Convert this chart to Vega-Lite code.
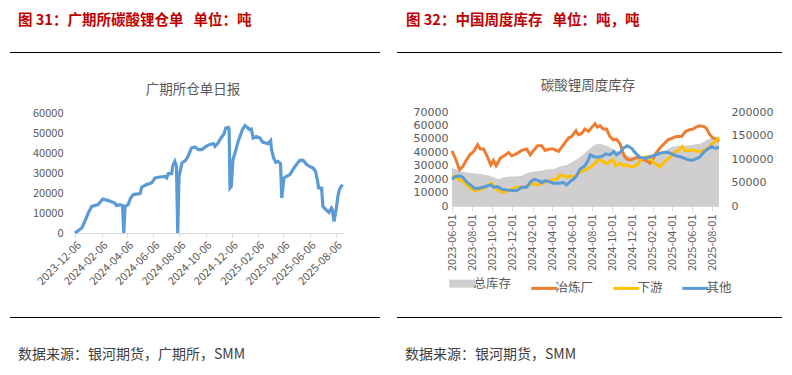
{
  "$schema": "https://vega.github.io/schema/vega-lite/v6.json",
  "background": "white",
  "padding": {"left": 10, "top": 13, "right": 5, "bottom": 5},
  "config": {
    "font": "Noto Sans CJK SC",
    "view": {"stroke": null},
    "axis": {"labelFont": "Noto Sans CJK SC", "labelColor": "#595959", "grid": false, "title": null},
    "title": {"font": "Noto Sans CJK SC"}
  },
  "datasets": {
    "warrant": [
      {"date": "2023-12-06", "value": 0},
      {"date": "2023-12-22", "value": 2500},
      {"date": "2023-12-29", "value": 5800},
      {"date": "2024-01-06", "value": 10000},
      {"date": "2024-01-14", "value": 13300},
      {"date": "2024-01-29", "value": 14200},
      {"date": "2024-02-09", "value": 17000},
      {"date": "2024-02-22", "value": 16200},
      {"date": "2024-03-08", "value": 15000},
      {"date": "2024-03-12", "value": 13700},
      {"date": "2024-03-20", "value": 14200},
      {"date": "2024-03-26", "value": 13700},
      {"date": "2024-03-29", "value": 0},
      {"date": "2024-04-01", "value": 13300},
      {"date": "2024-04-08", "value": 14200},
      {"date": "2024-04-14", "value": 17500},
      {"date": "2024-04-20", "value": 19200},
      {"date": "2024-05-06", "value": 19700},
      {"date": "2024-05-10", "value": 23000},
      {"date": "2024-05-21", "value": 24200},
      {"date": "2024-06-02", "value": 25000},
      {"date": "2024-06-10", "value": 27500},
      {"date": "2024-06-21", "value": 28000},
      {"date": "2024-07-03", "value": 28300},
      {"date": "2024-07-07", "value": 27500},
      {"date": "2024-07-11", "value": 29700},
      {"date": "2024-07-19", "value": 29700},
      {"date": "2024-07-21", "value": 33300},
      {"date": "2024-07-26", "value": 35800},
      {"date": "2024-07-30", "value": 33300},
      {"date": "2024-08-02", "value": 0},
      {"date": "2024-08-05", "value": 28300},
      {"date": "2024-08-12", "value": 35000},
      {"date": "2024-08-20", "value": 36300},
      {"date": "2024-08-26", "value": 38300},
      {"date": "2024-09-03", "value": 42500},
      {"date": "2024-09-11", "value": 43000},
      {"date": "2024-09-19", "value": 41700},
      {"date": "2024-09-27", "value": 41700},
      {"date": "2024-10-07", "value": 43300},
      {"date": "2024-10-16", "value": 44300},
      {"date": "2024-10-24", "value": 44700},
      {"date": "2024-10-28", "value": 43300},
      {"date": "2024-11-04", "value": 45000},
      {"date": "2024-11-11", "value": 47500},
      {"date": "2024-11-18", "value": 49500},
      {"date": "2024-11-22", "value": 52500},
      {"date": "2024-11-28", "value": 52800},
      {"date": "2024-11-30", "value": 51700},
      {"date": "2024-12-02", "value": 22500},
      {"date": "2024-12-05", "value": 23300},
      {"date": "2024-12-09", "value": 36700},
      {"date": "2024-12-16", "value": 41700},
      {"date": "2024-12-21", "value": 45800},
      {"date": "2024-12-27", "value": 49200},
      {"date": "2024-12-31", "value": 51700},
      {"date": "2025-01-06", "value": 53700},
      {"date": "2025-01-13", "value": 52500},
      {"date": "2025-01-17", "value": 51700},
      {"date": "2025-01-21", "value": 52000},
      {"date": "2025-01-25", "value": 47500},
      {"date": "2025-02-02", "value": 48300},
      {"date": "2025-02-10", "value": 47500},
      {"date": "2025-02-17", "value": 45300},
      {"date": "2025-03-01", "value": 44700},
      {"date": "2025-03-07", "value": 46200},
      {"date": "2025-03-09", "value": 41700},
      {"date": "2025-03-14", "value": 37500},
      {"date": "2025-03-19", "value": 35300},
      {"date": "2025-03-24", "value": 35800},
      {"date": "2025-03-30", "value": 34700},
      {"date": "2025-04-02", "value": 17500},
      {"date": "2025-04-07", "value": 27500},
      {"date": "2025-04-13", "value": 28300},
      {"date": "2025-04-21", "value": 29200},
      {"date": "2025-04-28", "value": 31700},
      {"date": "2025-05-06", "value": 34200},
      {"date": "2025-05-14", "value": 36300},
      {"date": "2025-05-22", "value": 36300},
      {"date": "2025-05-30", "value": 34200},
      {"date": "2025-06-06", "value": 33300},
      {"date": "2025-06-14", "value": 32500},
      {"date": "2025-06-20", "value": 30800},
      {"date": "2025-06-24", "value": 26700},
      {"date": "2025-06-27", "value": 22500},
      {"date": "2025-07-04", "value": 22500},
      {"date": "2025-07-07", "value": 13300},
      {"date": "2025-07-14", "value": 11700},
      {"date": "2025-07-21", "value": 10300},
      {"date": "2025-07-27", "value": 12500},
      {"date": "2025-07-29", "value": 11700},
      {"date": "2025-08-02", "value": 5800},
      {"date": "2025-08-08", "value": 13300},
      {"date": "2025-08-11", "value": 18300},
      {"date": "2025-08-15", "value": 22000},
      {"date": "2025-08-22", "value": 24200}
    ],
    "stock": [
      {"date": "2023-06-01", "series": "总库存", "value": 81800},
      {"date": "2023-06-11", "series": "总库存", "value": 78300},
      {"date": "2023-06-26", "series": "总库存", "value": 73300},
      {"date": "2023-07-16", "series": "总库存", "value": 71200},
      {"date": "2023-08-06", "series": "总库存", "value": 69700},
      {"date": "2023-08-26", "series": "总库存", "value": 68300},
      {"date": "2023-09-15", "series": "总库存", "value": 66200},
      {"date": "2023-10-05", "series": "总库存", "value": 61200},
      {"date": "2023-10-21", "series": "总库存", "value": 56900},
      {"date": "2023-11-05", "series": "总库存", "value": 61200},
      {"date": "2023-11-25", "series": "总库存", "value": 62600},
      {"date": "2023-12-15", "series": "总库存", "value": 62600},
      {"date": "2023-12-30", "series": "总库存", "value": 64100},
      {"date": "2024-01-14", "series": "总库存", "value": 69700},
      {"date": "2024-02-04", "series": "总库存", "value": 73300},
      {"date": "2024-02-24", "series": "总库存", "value": 74700},
      {"date": "2024-03-15", "series": "总库存", "value": 78300},
      {"date": "2024-04-04", "series": "总库存", "value": 78300},
      {"date": "2024-04-25", "series": "总库存", "value": 84000},
      {"date": "2024-05-15", "series": "总库存", "value": 87500},
      {"date": "2024-06-04", "series": "总库存", "value": 94700},
      {"date": "2024-06-24", "series": "总库存", "value": 103900},
      {"date": "2024-07-09", "series": "总库存", "value": 112400},
      {"date": "2024-07-25", "series": "总库存", "value": 123100},
      {"date": "2024-08-09", "series": "总库存", "value": 130200},
      {"date": "2024-08-22", "series": "总库存", "value": 132400},
      {"date": "2024-09-03", "series": "总库存", "value": 130200},
      {"date": "2024-09-18", "series": "总库存", "value": 126700},
      {"date": "2024-10-03", "series": "总库存", "value": 121000},
      {"date": "2024-10-19", "series": "总库存", "value": 116000},
      {"date": "2024-11-03", "series": "总库存", "value": 111000},
      {"date": "2024-11-18", "series": "总库存", "value": 106800},
      {"date": "2024-12-03", "series": "总库存", "value": 103900},
      {"date": "2024-12-23", "series": "总库存", "value": 103900},
      {"date": "2025-01-12", "series": "总库存", "value": 103900},
      {"date": "2025-02-02", "series": "总库存", "value": 106800},
      {"date": "2025-02-22", "series": "总库存", "value": 113900},
      {"date": "2025-03-14", "series": "总库存", "value": 119600},
      {"date": "2025-04-03", "series": "总库存", "value": 126700},
      {"date": "2025-04-24", "series": "总库存", "value": 128100},
      {"date": "2025-05-14", "series": "总库存", "value": 128100},
      {"date": "2025-06-03", "series": "总库存", "value": 130200},
      {"date": "2025-06-23", "series": "总库存", "value": 132400},
      {"date": "2025-07-13", "series": "总库存", "value": 139500},
      {"date": "2025-07-29", "series": "总库存", "value": 144500},
      {"date": "2025-08-21", "series": "总库存", "value": 144500},

      {"date": "2023-06-01", "series": "冶炼厂", "value": 41100},
      {"date": "2023-06-11", "series": "冶炼厂", "value": 35600},
      {"date": "2023-06-24", "series": "冶炼厂", "value": 26900},
      {"date": "2023-07-04", "series": "冶炼厂", "value": 29400},
      {"date": "2023-07-14", "series": "冶炼厂", "value": 33900},
      {"date": "2023-07-25", "series": "冶炼厂", "value": 38100},
      {"date": "2023-08-06", "series": "冶炼厂", "value": 40600},
      {"date": "2023-08-18", "series": "冶炼厂", "value": 45600},
      {"date": "2023-08-26", "series": "冶炼厂", "value": 42400},
      {"date": "2023-09-05", "series": "冶炼厂", "value": 42400},
      {"date": "2023-09-17", "series": "冶炼厂", "value": 36400},
      {"date": "2023-09-27", "series": "冶炼厂", "value": 30600},
      {"date": "2023-10-05", "series": "冶炼厂", "value": 33900},
      {"date": "2023-10-13", "series": "冶炼厂", "value": 29900},
      {"date": "2023-10-26", "series": "冶炼厂", "value": 35600},
      {"date": "2023-11-07", "series": "冶炼厂", "value": 37400},
      {"date": "2023-11-20", "series": "冶炼厂", "value": 39900},
      {"date": "2023-11-30", "series": "冶炼厂", "value": 37400},
      {"date": "2023-12-15", "series": "冶炼厂", "value": 38900},
      {"date": "2023-12-30", "series": "冶炼厂", "value": 41400},
      {"date": "2024-01-14", "series": "冶炼厂", "value": 42400},
      {"date": "2024-01-25", "series": "冶炼厂", "value": 38100},
      {"date": "2024-02-04", "series": "冶炼厂", "value": 41400},
      {"date": "2024-02-16", "series": "冶炼厂", "value": 44800},
      {"date": "2024-02-29", "series": "冶炼厂", "value": 44800},
      {"date": "2024-03-10", "series": "冶炼厂", "value": 41400},
      {"date": "2024-03-23", "series": "冶炼厂", "value": 42400},
      {"date": "2024-04-04", "series": "冶炼厂", "value": 42400},
      {"date": "2024-04-20", "series": "冶炼厂", "value": 40600},
      {"date": "2024-05-05", "series": "冶炼厂", "value": 45600},
      {"date": "2024-05-20", "series": "冶炼厂", "value": 50600},
      {"date": "2024-05-30", "series": "冶炼厂", "value": 51800},
      {"date": "2024-06-12", "series": "冶炼厂", "value": 56100},
      {"date": "2024-06-19", "series": "冶炼厂", "value": 53100},
      {"date": "2024-06-29", "series": "冶炼厂", "value": 53800},
      {"date": "2024-07-09", "series": "冶炼厂", "value": 57300},
      {"date": "2024-07-20", "series": "冶炼厂", "value": 55600},
      {"date": "2024-08-02", "series": "冶炼厂", "value": 59300},
      {"date": "2024-08-09", "series": "冶炼厂", "value": 61300},
      {"date": "2024-08-16", "series": "冶炼厂", "value": 58800},
      {"date": "2024-08-24", "series": "冶炼厂", "value": 59800},
      {"date": "2024-09-03", "series": "冶炼厂", "value": 57300},
      {"date": "2024-09-13", "series": "冶炼厂", "value": 57300},
      {"date": "2024-09-23", "series": "冶炼厂", "value": 51800},
      {"date": "2024-10-03", "series": "冶炼厂", "value": 49300},
      {"date": "2024-10-13", "series": "冶炼厂", "value": 49800},
      {"date": "2024-10-24", "series": "冶炼厂", "value": 46300},
      {"date": "2024-11-01", "series": "冶炼厂", "value": 40600},
      {"date": "2024-11-08", "series": "冶炼厂", "value": 36400},
      {"date": "2024-11-18", "series": "冶炼厂", "value": 34400},
      {"date": "2024-11-28", "series": "冶炼厂", "value": 34400},
      {"date": "2024-12-08", "series": "冶炼厂", "value": 35600},
      {"date": "2024-12-18", "series": "冶炼厂", "value": 36400},
      {"date": "2024-12-28", "series": "冶炼厂", "value": 34900},
      {"date": "2025-01-12", "series": "冶炼厂", "value": 33900},
      {"date": "2025-01-23", "series": "冶炼厂", "value": 31900},
      {"date": "2025-01-31", "series": "冶炼厂", "value": 34400},
      {"date": "2025-02-07", "series": "冶炼厂", "value": 38100},
      {"date": "2025-02-20", "series": "冶炼厂", "value": 42400},
      {"date": "2025-03-04", "series": "冶炼厂", "value": 45600},
      {"date": "2025-03-19", "series": "冶炼厂", "value": 49300},
      {"date": "2025-04-01", "series": "冶炼厂", "value": 50600},
      {"date": "2025-04-13", "series": "冶炼厂", "value": 51800},
      {"date": "2025-04-29", "series": "冶炼厂", "value": 51800},
      {"date": "2025-05-12", "series": "冶炼厂", "value": 55600},
      {"date": "2025-05-24", "series": "冶炼厂", "value": 56800},
      {"date": "2025-06-03", "series": "冶炼厂", "value": 57300},
      {"date": "2025-06-13", "series": "冶炼厂", "value": 58800},
      {"date": "2025-06-23", "series": "冶炼厂", "value": 59800},
      {"date": "2025-07-05", "series": "冶炼厂", "value": 59300},
      {"date": "2025-07-13", "series": "冶炼厂", "value": 58100},
      {"date": "2025-07-24", "series": "冶炼厂", "value": 53100},
      {"date": "2025-08-03", "series": "冶炼厂", "value": 50600},
      {"date": "2025-08-13", "series": "冶炼厂", "value": 49800},
      {"date": "2025-08-21", "series": "冶炼厂", "value": 48100},

      {"date": "2023-06-01", "series": "下游", "value": 22400},
      {"date": "2023-06-11", "series": "下游", "value": 21900},
      {"date": "2023-06-24", "series": "下游", "value": 19400},
      {"date": "2023-07-06", "series": "下游", "value": 18200},
      {"date": "2023-07-16", "series": "下游", "value": 15700},
      {"date": "2023-07-27", "series": "下游", "value": 13200},
      {"date": "2023-08-08", "series": "下游", "value": 11500},
      {"date": "2023-08-21", "series": "下游", "value": 12000},
      {"date": "2023-09-05", "series": "下游", "value": 13200},
      {"date": "2023-09-20", "series": "下游", "value": 15700},
      {"date": "2023-09-30", "series": "下游", "value": 16900},
      {"date": "2023-10-10", "series": "下游", "value": 13200},
      {"date": "2023-10-21", "series": "下游", "value": 11500},
      {"date": "2023-11-03", "series": "下游", "value": 10000},
      {"date": "2023-11-15", "series": "下游", "value": 11500},
      {"date": "2023-11-30", "series": "下游", "value": 12500},
      {"date": "2023-12-15", "series": "下游", "value": 14000},
      {"date": "2023-12-30", "series": "下游", "value": 14000},
      {"date": "2024-01-14", "series": "下游", "value": 14400},
      {"date": "2024-01-30", "series": "下游", "value": 16900},
      {"date": "2024-02-14", "series": "下游", "value": 15700},
      {"date": "2024-02-29", "series": "下游", "value": 16900},
      {"date": "2024-03-15", "series": "下游", "value": 18200},
      {"date": "2024-03-30", "series": "下游", "value": 19400},
      {"date": "2024-04-14", "series": "下游", "value": 19900},
      {"date": "2024-04-25", "series": "下游", "value": 23200},
      {"date": "2024-05-05", "series": "下游", "value": 22400},
      {"date": "2024-05-15", "series": "下游", "value": 21400},
      {"date": "2024-05-30", "series": "下游", "value": 22400},
      {"date": "2024-06-09", "series": "下游", "value": 21400},
      {"date": "2024-06-19", "series": "下游", "value": 24400},
      {"date": "2024-06-29", "series": "下游", "value": 25700},
      {"date": "2024-07-09", "series": "下游", "value": 26900},
      {"date": "2024-07-20", "series": "下游", "value": 28200},
      {"date": "2024-07-30", "series": "下游", "value": 29400},
      {"date": "2024-08-09", "series": "下游", "value": 31900},
      {"date": "2024-08-22", "series": "下游", "value": 34900},
      {"date": "2024-09-03", "series": "下游", "value": 33100},
      {"date": "2024-09-13", "series": "下游", "value": 31400},
      {"date": "2024-09-23", "series": "下游", "value": 33100},
      {"date": "2024-10-03", "series": "下游", "value": 34400},
      {"date": "2024-10-11", "series": "下游", "value": 29900},
      {"date": "2024-10-24", "series": "下游", "value": 31900},
      {"date": "2024-11-03", "series": "下游", "value": 29900},
      {"date": "2024-11-13", "series": "下游", "value": 30600},
      {"date": "2024-11-23", "series": "下游", "value": 29400},
      {"date": "2024-12-03", "series": "下游", "value": 29400},
      {"date": "2024-12-15", "series": "下游", "value": 30600},
      {"date": "2024-12-25", "series": "下游", "value": 33900},
      {"date": "2025-01-07", "series": "下游", "value": 36400},
      {"date": "2025-01-21", "series": "下游", "value": 36900},
      {"date": "2025-01-31", "series": "下游", "value": 33100},
      {"date": "2025-02-10", "series": "下游", "value": 31400},
      {"date": "2025-02-22", "series": "下游", "value": 28900},
      {"date": "2025-03-04", "series": "下游", "value": 31900},
      {"date": "2025-03-14", "series": "下游", "value": 34400},
      {"date": "2025-03-26", "series": "下游", "value": 36400},
      {"date": "2025-04-08", "series": "下游", "value": 39900},
      {"date": "2025-04-21", "series": "下游", "value": 41900},
      {"date": "2025-05-02", "series": "下游", "value": 44300},
      {"date": "2025-05-09", "series": "下游", "value": 41400},
      {"date": "2025-05-22", "series": "下游", "value": 41400},
      {"date": "2025-06-03", "series": "下游", "value": 41900},
      {"date": "2025-06-15", "series": "下游", "value": 40600},
      {"date": "2025-06-28", "series": "下游", "value": 40600},
      {"date": "2025-07-11", "series": "下游", "value": 41900},
      {"date": "2025-07-24", "series": "下游", "value": 44300},
      {"date": "2025-08-03", "series": "下游", "value": 46800},
      {"date": "2025-08-13", "series": "下游", "value": 48800},
      {"date": "2025-08-21", "series": "下游", "value": 51300},

      {"date": "2023-06-01", "series": "其他", "value": 19900},
      {"date": "2023-06-11", "series": "其他", "value": 21900},
      {"date": "2023-06-24", "series": "其他", "value": 22400},
      {"date": "2023-07-04", "series": "其他", "value": 21400},
      {"date": "2023-07-14", "series": "其他", "value": 18200},
      {"date": "2023-07-27", "series": "其他", "value": 15700},
      {"date": "2023-08-08", "series": "其他", "value": 13200},
      {"date": "2023-08-21", "series": "其他", "value": 13200},
      {"date": "2023-09-03", "series": "其他", "value": 14000},
      {"date": "2023-09-15", "series": "其他", "value": 14900},
      {"date": "2023-09-27", "series": "其他", "value": 15700},
      {"date": "2023-10-05", "series": "其他", "value": 14000},
      {"date": "2023-10-18", "series": "其他", "value": 14400},
      {"date": "2023-10-31", "series": "其他", "value": 12500},
      {"date": "2023-11-13", "series": "其他", "value": 12000},
      {"date": "2023-11-30", "series": "其他", "value": 11500},
      {"date": "2023-12-15", "series": "其他", "value": 11500},
      {"date": "2023-12-30", "series": "其他", "value": 14000},
      {"date": "2024-01-14", "series": "其他", "value": 14000},
      {"date": "2024-01-27", "series": "其他", "value": 18200},
      {"date": "2024-02-06", "series": "其他", "value": 19900},
      {"date": "2024-02-19", "series": "其他", "value": 18900},
      {"date": "2024-02-29", "series": "其他", "value": 17400},
      {"date": "2024-03-10", "series": "其他", "value": 18900},
      {"date": "2024-03-23", "series": "其他", "value": 18200},
      {"date": "2024-04-04", "series": "其他", "value": 16900},
      {"date": "2024-04-20", "series": "其他", "value": 16900},
      {"date": "2024-05-05", "series": "其他", "value": 17400},
      {"date": "2024-05-15", "series": "其他", "value": 15700},
      {"date": "2024-05-25", "series": "其他", "value": 18200},
      {"date": "2024-06-04", "series": "其他", "value": 19900},
      {"date": "2024-06-14", "series": "其他", "value": 22400},
      {"date": "2024-06-24", "series": "其他", "value": 27400},
      {"date": "2024-07-09", "series": "其他", "value": 29900},
      {"date": "2024-07-20", "series": "其他", "value": 34400},
      {"date": "2024-07-25", "series": "其他", "value": 38100},
      {"date": "2024-08-04", "series": "其他", "value": 36900},
      {"date": "2024-08-16", "series": "其他", "value": 36400},
      {"date": "2024-08-29", "series": "其他", "value": 36900},
      {"date": "2024-09-11", "series": "其他", "value": 38900},
      {"date": "2024-09-23", "series": "其他", "value": 38100},
      {"date": "2024-10-05", "series": "其他", "value": 40600},
      {"date": "2024-10-13", "series": "其他", "value": 38100},
      {"date": "2024-10-24", "series": "其他", "value": 39900},
      {"date": "2024-11-03", "series": "其他", "value": 43100},
      {"date": "2024-11-15", "series": "其他", "value": 44800},
      {"date": "2024-11-28", "series": "其他", "value": 43100},
      {"date": "2024-12-08", "series": "其他", "value": 39900},
      {"date": "2024-12-23", "series": "其他", "value": 36400},
      {"date": "2025-01-07", "series": "其他", "value": 35600},
      {"date": "2025-01-21", "series": "其他", "value": 36400},
      {"date": "2025-02-02", "series": "其他", "value": 37400},
      {"date": "2025-02-17", "series": "其他", "value": 38900},
      {"date": "2025-03-04", "series": "其他", "value": 39900},
      {"date": "2025-03-19", "series": "其他", "value": 39900},
      {"date": "2025-03-29", "series": "其他", "value": 38900},
      {"date": "2025-04-13", "series": "其他", "value": 37400},
      {"date": "2025-04-29", "series": "其他", "value": 36400},
      {"date": "2025-05-14", "series": "其他", "value": 34900},
      {"date": "2025-05-29", "series": "其他", "value": 33900},
      {"date": "2025-06-11", "series": "其他", "value": 34900},
      {"date": "2025-06-23", "series": "其他", "value": 36400},
      {"date": "2025-07-05", "series": "其他", "value": 39900},
      {"date": "2025-07-18", "series": "其他", "value": 42500},
      {"date": "2025-07-29", "series": "其他", "value": 44300},
      {"date": "2025-08-08", "series": "其他", "value": 43100},
      {"date": "2025-08-21", "series": "其他", "value": 43600}
    ]
  },
  "hconcat": [
    {
      "spacing": 24,
      "vconcat": [
        {
          "spacing": 24,
          "vconcat": [
            {
              "width": 370,
              "height": 1,
              "view": {"fill": "#000000", "stroke": null},
              "title": {"text": "图 31：广期所碳酸锂仓单\u2002\u2009单位：吨", "anchor": "start", "frame": "group", "fontSize": 14.5, "fontWeight": "bold", "color": "#C00000", "offset": 18, "dx": 8},
              "data": {"values": [{}]},
              "mark": {"type": "text"},
              "encoding": {"text": {"value": ""}}
            },
            {
              "width": 333,
              "height": 120,
              "title": {"text": "广期所仓单日报", "anchor": "middle", "frame": "group", "fontSize": 13.5, "fontWeight": "normal", "color": "#595959", "offset": 11, "dx": 16.5},
              "data": {"name": "warrant"},
              "mark": {"type": "line", "color": "#5B9BD5", "strokeWidth": 3.2},
              "encoding": {
                "x": {
                  "field": "date", "type": "temporal",
                  "scale": {"type": "utc", "domain": [{"year": 2023, "month": 12, "date": 6, "utc": true}, {"year": 2025, "month": 8, "date": 23, "utc": true}], "range": [65, 333]},
                  "axis": {
                    "values": [
                      {"year": 2023, "month": 12, "date": 6, "utc": true},
                      {"year": 2024, "month": 2, "date": 6, "utc": true},
                      {"year": 2024, "month": 4, "date": 6, "utc": true},
                      {"year": 2024, "month": 6, "date": 6, "utc": true},
                      {"year": 2024, "month": 8, "date": 6, "utc": true},
                      {"year": 2024, "month": 10, "date": 6, "utc": true},
                      {"year": 2024, "month": 12, "date": 6, "utc": true},
                      {"year": 2025, "month": 2, "date": 6, "utc": true},
                      {"year": 2025, "month": 4, "date": 6, "utc": true},
                      {"year": 2025, "month": 6, "date": 6, "utc": true},
                      {"year": 2025, "month": 8, "date": 6, "utc": true}
                    ],
                    "format": "%Y-%m-%d", "labelAngle": -45, "labelFontSize": 11, "labelOverlap": false,
                    "domainColor": "#D9D9D9", "tickColor": "#D9D9D9", "tickSize": 4, "labelPadding": 2
                  }
                },
                "y": {
                  "field": "value", "type": "quantitative",
                  "scale": {"domain": [0, 60000]},
                  "axis": {"values": [0, 10000, 20000, 30000, 40000, 50000, 60000], "format": "d", "offset": -65, "domain": false, "ticks": false, "labelPadding": 12, "labelFontSize": 11}
                }
              }
            }
          ]
        },
        {
          "width": 370,
          "height": 1,
          "view": {"fill": "#000000", "stroke": null},
          "title": {"text": "数据来源：银河期货，广期所，SMM", "orient": "bottom", "anchor": "start", "frame": "group", "fontSize": 14, "fontWeight": "normal", "color": "#404040", "offset": 25, "dx": 8},
          "data": {"values": [{}]},
          "mark": {"type": "text"},
          "encoding": {"text": {"value": ""}}
        }
      ]
    },
    {
      "spacing": 11,
      "resolve": {"scale": {"color": "independent"}},
      "vconcat": [
        {
          "spacing": 20,
          "resolve": {"scale": {"color": "independent"}},
          "vconcat": [
            {
              "width": 385,
              "height": 1,
              "view": {"fill": "#000000", "stroke": null},
              "title": {"text": "图 32：中国周度库存\u2002\u2009单位：吨，吨", "anchor": "start", "frame": "group", "fontSize": 14.5, "fontWeight": "bold", "color": "#C00000", "offset": 18, "dx": 9},
              "data": {"values": [{}]},
              "mark": {"type": "text"},
              "encoding": {"text": {"value": ""}}
            },
            {
              "width": 322,
              "height": 94,
              "title": {"text": "碳酸锂周度库存", "anchor": "middle", "frame": "group", "fontSize": 13.5, "fontWeight": "normal", "color": "#595959", "offset": 14, "dx": 30},
              "data": {"name": "stock"},
              "encoding": {
                "x": {
                  "field": "date", "type": "temporal",
                  "scale": {"type": "utc", "domain": [{"year": 2023, "month": 6, "date": 1, "utc": true}, {"year": 2025, "month": 8, "date": 21, "utc": true}], "range": [55, 322]},
                  "axis": {
                    "values": [
                      {"year": 2023, "month": 6, "date": 1, "utc": true},
                      {"year": 2023, "month": 8, "date": 1, "utc": true},
                      {"year": 2023, "month": 10, "date": 1, "utc": true},
                      {"year": 2023, "month": 12, "date": 1, "utc": true},
                      {"year": 2024, "month": 2, "date": 1, "utc": true},
                      {"year": 2024, "month": 4, "date": 1, "utc": true},
                      {"year": 2024, "month": 6, "date": 1, "utc": true},
                      {"year": 2024, "month": 8, "date": 1, "utc": true},
                      {"year": 2024, "month": 10, "date": 1, "utc": true},
                      {"year": 2024, "month": 12, "date": 1, "utc": true},
                      {"year": 2025, "month": 2, "date": 1, "utc": true},
                      {"year": 2025, "month": 4, "date": 1, "utc": true},
                      {"year": 2025, "month": 6, "date": 1, "utc": true},
                      {"year": 2025, "month": 8, "date": 1, "utc": true}
                    ],
                    "format": "%Y-%m-%d", "labelAngle": -90, "labelFontSize": 11, "labelOverlap": false,
                    "domainColor": "#D9D9D9", "tickColor": "#D9D9D9", "tickSize": 5, "labelPadding": 3
                  }
                }
              },
              "layer": [
                {
                  "transform": [{"filter": "datum.series === '总库存'"}],
                  "mark": {"type": "area", "color": "#D0CECE"},
                  "encoding": {
                    "y": {
                      "field": "value", "type": "quantitative", "stack": null,
                      "scale": {"domain": [0, 200000]},
                      "axis": {"orient": "right", "values": [0, 50000, 100000, 150000, 200000], "format": "d", "domain": false, "ticks": false, "labelPadding": 12, "labelFontSize": 11, "labelFont": "DejaVu Sans"}
                    },
                    "color": {
                      "field": "series", "type": "nominal",
                      "scale": {"domain": ["总库存", "冶炼厂", "下游", "其他"], "range": ["#D0CECE", "#ED7D31", "#FFC000", "#5B9BD5"]},
                      "legend": {
                        "orient": "none", "legendX": 59, "legendY": 165, "direction": "horizontal", "title": null,
                        "symbolType": "stroke", "symbolSize": 676, "symbolStrokeWidth": 3,
                        "labelFontSize": 12.5, "labelColor": "#595959", "labelFont": "Noto Sans CJK SC",
                        "columnPadding": 13, "labelOffset": 5, "padding": 0,
                        "encode": {
                          "symbols": {
                            "update": {
                              "strokeWidth": {"signal": "datum.value === '总库存' ? 8 : 3"},
                              "stroke": {"signal": "datum.value === '总库存' ? '#D0CECE' : datum.value === '冶炼厂' ? '#ED7D31' : datum.value === '下游' ? '#FFC000' : '#5B9BD5'"},
                              "fill": {"value": "transparent"},
                              "opacity": {"value": 1}
                            }
                          }
                        }
                      }
                    }
                  }
                },
                {
                  "transform": [{"filter": "datum.series !== '总库存'"}],
                  "mark": {"type": "line", "strokeWidth": 3},
                  "encoding": {
                    "y": {
                      "field": "value", "type": "quantitative",
                      "scale": {"domain": [0, 70000]},
                      "axis": {"orient": "left", "offset": -55, "values": [0, 10000, 20000, 30000, 40000, 50000, 60000, 70000], "format": "d", "domain": false, "ticks": false, "labelPadding": 4, "labelFontSize": 11, "labelFont": "DejaVu Sans"}
                    },
                    "color": {"field": "series", "type": "nominal"}
                  }
                }
              ],
              "resolve": {"scale": {"y": "independent"}, "axis": {"y": "independent"}}
            }
          ]
        },
        {
          "width": 385,
          "height": 1,
          "view": {"fill": "#000000", "stroke": null},
          "title": {"text": "数据来源：银河期货，SMM", "orient": "bottom", "anchor": "start", "frame": "group", "fontSize": 14, "fontWeight": "normal", "color": "#404040", "offset": 25, "dx": 8},
          "data": {"values": [{}]},
          "mark": {"type": "text"},
          "encoding": {"text": {"value": ""}}
        }
      ]
    }
  ],
  "spacing": 17,
  "resolve": {"scale": {"color": "independent"}}
}
